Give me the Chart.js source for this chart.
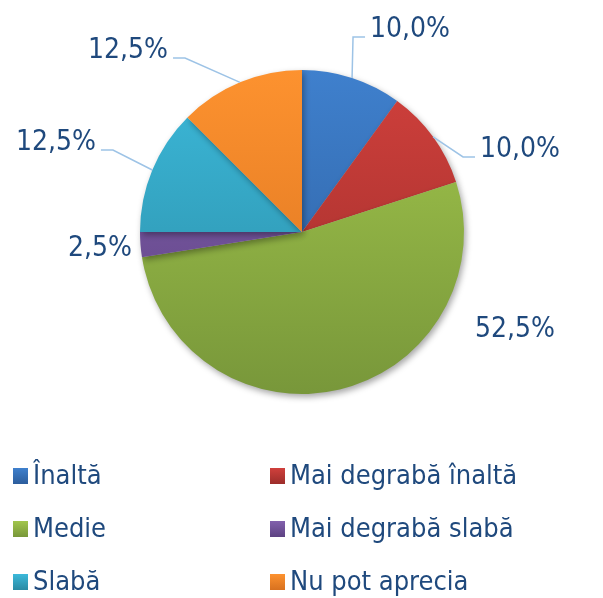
<!DOCTYPE html>
<html>
<head>
<meta charset="utf-8">
<script src="https://cdn.jsdelivr.net/npm/chart.js@4"></script>
<style>
  html, body { margin: 0; padding: 0; background: #fff; }
  #wrap { width: 603px; height: 598px; position: relative; }
</style>
</head>
<body>
<div id="wrap"><canvas id="pieChart" width="603" height="598"></canvas></div>
<script>
const categories = ["Înaltă", "Mai degrabă înaltă", "Medie", "Mai degrabă slabă", "Slabă", "Nu pot aprecia"];
const values = [10.0, 10.0, 52.5, 2.5, 12.5, 12.5];
const topColors = ["#3f80cd", "#d0403c", "#a2c64c", "#8260ad", "#3cb9da", "#fd922f"];
const bottomColors = ["#2c5d9c", "#9c2d2a", "#78973a", "#5d4282", "#2a8aa3", "#d8711f"];

const textColor = "#1f497d";
const leaderColor = "#9dc3e6";
const fontFamily = "'DejaVu Sans Condensed', 'DejaVu Sans', sans-serif";

// label anchors (in pie radius units from centre), side of text, leader line or not
const labelSpots = [
  { dx: 0.42, dy: -1.204, align: "left", leader: true },
  { dx: 1.099, dy: -0.463, align: "left", leader: true },
  { dx: 1.068, dy: 0.648, align: "left", leader: false },
  { dx: -1.049, dy: 0.148, align: "right", leader: false },
  { dx: -1.272, dy: -0.506, align: "right", leader: true },
  { dx: -0.827, dy: -1.074, align: "right", leader: true }
];

const fmt = v => v.toFixed(1).replace(".", ",") + "%";

const ctx = document.getElementById("pieChart").getContext("2d");

function sliceFill(context) {
  const chart = context.chart;
  const area = chart.chartArea;
  if (!area) return topColors[context.dataIndex];
  const g = chart.ctx.createLinearGradient(0, area.top, 0, area.bottom);
  g.addColorStop(0, topColors[context.dataIndex]);
  g.addColorStop(1, bottomColors[context.dataIndex]);
  return g;
}

const shadowPlugin = {
  id: "shadow",
  beforeDatasetsDraw(chart) {
    const c = chart.ctx;
    c.save();
    c.shadowColor = "rgba(0,0,0,0.35)";
    c.shadowBlur = 6;
    c.shadowOffsetX = 2;
    c.shadowOffsetY = 3;
  },
  afterDatasetsDraw(chart) {
    chart.ctx.restore();
  }
};

const labelPlugin = {
  id: "pieLabels",
  afterDraw(chart) {
    const c = chart.ctx;
    const arcs = chart.getDatasetMeta(0).data;
    c.save();
    c.font = "28px " + fontFamily;
    c.textBaseline = "alphabetic";
    arcs.forEach((arc, i) => {
      const { x, y, startAngle, endAngle, outerRadius } = arc.getProps(["x", "y", "startAngle", "endAngle", "outerRadius"], true);
      const spot = labelSpots[i];
      const tx = x + spot.dx * outerRadius;
      const ty = y + spot.dy * outerRadius;
      if (spot.leader) {
        const mid = (startAngle + endAngle) / 2;
        const sx = x + Math.cos(mid) * outerRadius;
        const sy = y + Math.sin(mid) * outerRadius;
        const sgn = spot.align === "left" ? -1 : 1;
        c.beginPath();
        c.strokeStyle = leaderColor;
        c.lineWidth = 1.5;
        c.moveTo(sx, sy);
        c.lineTo(tx + sgn * 17, ty);
        c.lineTo(tx + sgn * 5, ty);
        c.stroke();
      }
      c.fillStyle = textColor;
      c.textAlign = spot.align;
      c.fillText(fmt(values[i]), tx, ty);
    });

    // legend in two columns
    c.font = "27px " + fontFamily;
    c.textAlign = "left";
    c.textBaseline = "middle";
    const colX = [13, 270];
    const rowY = [476, 529, 582];
    categories.forEach((name, i) => {
      const lx = colX[i % 2];
      const ly = rowY[Math.floor(i / 2)];
      const g = c.createLinearGradient(0, ly - 8, 0, ly + 8);
      g.addColorStop(0, topColors[i]);
      g.addColorStop(1, bottomColors[i]);
      c.fillStyle = g;
      c.fillRect(lx, ly - 8, 15, 16);
      c.fillStyle = textColor;
      c.fillText(name, lx + 20, ly + 1);
    });
    c.restore();
  }
};

new Chart(ctx, {
  type: "pie",
  data: {
    labels: categories,
    datasets: [{
      data: values,
      backgroundColor: sliceFill,
      borderWidth: 0
    }]
  },
  options: {
    responsive: false,
    animation: false,
    layout: { padding: { left: 140, right: 139, top: 70, bottom: 204 } },
    plugins: {
      legend: { display: false },
      tooltip: { enabled: false }
    }
  },
  plugins: [shadowPlugin, labelPlugin]
});
</script>
</body>
</html>
